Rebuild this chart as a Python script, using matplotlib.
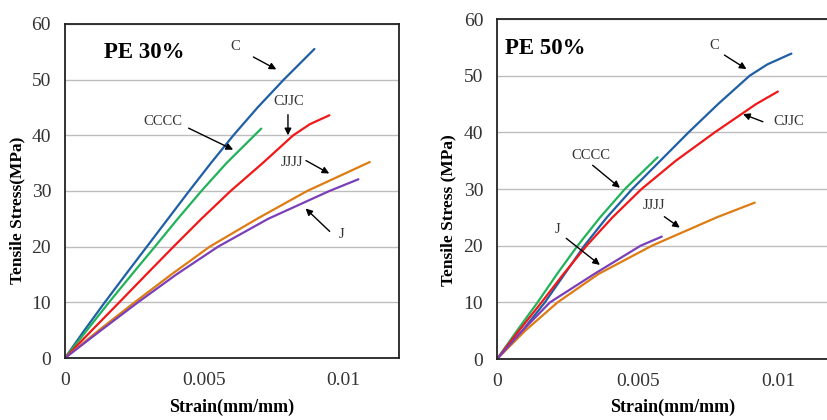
import matplotlib
matplotlib.use("Agg")
import matplotlib.pyplot as plt

plt.rcParams['font.family'] = ['Liberation Serif', 'DejaVu Serif']

# PE 30% curves (strain, stress)
c30_x = [0, 0.0007, 0.00143, 0.00218, 0.00294, 0.0037, 0.00446, 0.00524, 0.00605, 0.00692, 0.00786, 0.00896]
c30_y = [0, 5, 10, 15, 20, 25, 30, 35, 40, 45, 50, 55.5]
cccc30_x = [0, 0.00079, 0.00158, 0.0024, 0.00323, 0.00405, 0.0049, 0.0058, 0.00705]
cccc30_y = [0, 5, 10, 15, 20, 25, 30, 35, 41.2]
cjjc30_x = [0, 0.00097, 0.00195, 0.00292, 0.0039, 0.0049, 0.00595, 0.0071, 0.0082, 0.0088, 0.0095]
cjjc30_y = [0, 5, 10, 15, 20, 25, 30, 35, 40, 42, 43.6]
jjjj30_x = [0, 0.00122, 0.0025, 0.00382, 0.0052, 0.0069, 0.0087, 0.01095]
jjjj30_y = [0, 5, 10, 15, 20, 25, 30, 35.2]
j30_x = [0, 0.0013, 0.00262, 0.0040, 0.0055, 0.0073, 0.0095, 0.01054]
j30_y = [0, 5, 10, 15, 20, 25, 30, 32.1]

# PE 50% curves
c50_x = [0, 0.0009, 0.0017, 0.0024, 0.0031, 0.0039, 0.0048, 0.0058, 0.0068, 0.00785, 0.00897, 0.0096, 0.01045]
c50_y = [0, 5, 10, 15, 20, 25, 30, 35, 40, 45, 50, 52, 53.9]
cccc50_x = [0, 0.00071, 0.00144, 0.00213, 0.00286, 0.00366, 0.00454, 0.0057]
cccc50_y = [0, 5, 10, 15, 20, 25, 30, 35.6]
cjjc50_x = [0, 0.00078, 0.00158, 0.00236, 0.00318, 0.0041, 0.00513, 0.00635, 0.00773, 0.0092, 0.00997]
cjjc50_y = [0, 5, 10, 15, 20, 25, 30, 35, 40, 45, 47.2]
jjjj50_x = [0, 0.001, 0.00215, 0.0036, 0.0055, 0.00702, 0.0078, 0.00915]
jjjj50_y = [0, 5, 10, 15, 20, 23.3, 25, 27.6]
j50_x = [0, 0.0009, 0.00188, 0.00345, 0.0051, 0.00585]
j50_y = [0, 5, 10, 15, 20, 21.6]

colors = {'C': '#1f5fa6', 'CCCC': '#21b25a', 'CJJC': '#f01818', 'JJJJ': '#de7c14', 'J': '#7a3fb8'}

fig = plt.figure(figsize=(8.27, 4.2), dpi=100)
ax1 = fig.add_axes([0.0786, 0.1476, 0.4039, 0.7954])
ax2 = fig.add_axes([0.601, 0.1452, 0.4087, 0.8095])

panels = [
    (ax1, 'PE 30%', 0.0014, 'Tensile Stress(MPa)', 25, 232,
     [(c30_x, c30_y, 'C'), (cccc30_x, cccc30_y, 'CCCC'), (cjjc30_x, cjjc30_y, 'CJJC'),
      (jjjj30_x, jjjj30_y, 'JJJJ'), (j30_x, j30_y, 'J')],
     [('C', (0.00613, 55.9), (0.00668, 54.3), (0.00768, 51.6)),
      ('CJJC', (0.00804, 46.0), (0.00801, 44.2), (0.00801, 39.5)),
      ('CCCC', (0.00351, 42.4), (0.00435, 41.5), (0.00613, 37.2)),
      ('JJJJ', (0.00815, 35.1), (0.00857, 35.7), (0.00958, 32.9)),
      ('J', (0.00994, 22.1), (0.00958, 22.4), (0.00857, 27.2))]),
    (ax2, 'PE 50%', 0.0003, 'Tensile Stress (MPa)', 456, 673,
     [(c50_x, c50_y, 'C'), (cccc50_x, cccc50_y, 'CCCC'), (cjjc50_x, cjjc50_y, 'CJJC'),
      (jjjj50_x, jjjj50_y, 'JJJJ'), (j50_x, j50_y, 'J')],
     [('C', (0.0077, 55.4), (0.00799, 53.9), (0.00894, 50.9)),
      ('CJJC', (0.01035, 41.9), (0.00953, 41.7), (0.00864, 43.4)),
      ('CCCC', (0.00332, 36.0), (0.00332, 34.5), (0.00444, 29.9)),
      ('JJJJ', (0.00557, 27.1), (0.00586, 25.4), (0.00657, 22.9)),
      ('J', (0.00214, 22.9), (0.00238, 21.6), (0.00373, 16.3))]),
]

for ax, title, tx, ylabel, ylab_px, xlab_px, curves, notes in panels:
    for xs, ys, name in curves:
        ax.plot(xs, ys, color=colors[name], lw=1.6, solid_capstyle='round', solid_joinstyle='round')
    ax.set_xlim(0, 0.012)
    ax.set_ylim(0, 60)
    ax.set_xticks([0, 0.005, 0.01])
    ax.set_xticklabels(['0', '0.005', '0.01'])
    ax.set_yticks([0, 10, 20, 30, 40, 50, 60])
    ax.tick_params(length=0, labelsize=14, pad=10, labelcolor='#333333')
    ax.grid(axis='y', color='#bdbdbd', lw=1)
    ax.set_axisbelow(True)
    for s in ax.spines.values():
        s.set_color('#222222')
        s.set_linewidth(1.3)
    ax.set_xlabel('Strain(mm/mm)', fontsize=13, fontweight='bold')
    ax.set_ylabel(ylabel, fontsize=12.5, fontweight='bold')
    # axis labels at the reference pixel positions
    ax.xaxis.set_label_coords(xlab_px / 827, 21 / 420, transform=fig.transFigure)
    ax.yaxis.set_label_coords(ylab_px / 827, 0.5, transform=fig.transFigure)
    ax.text(tx, 54.8, title, fontsize=16.5, fontweight='bold', va='center', ha='left')
    for label, tpos, a0, a1 in notes:
        ax.text(tpos[0], tpos[1], label, fontsize=10.5, ha='center', va='center', color='#333333')
        ax.annotate('', xy=a1, xytext=a0,
                    arrowprops=dict(arrowstyle='-|>', color='black', lw=1, mutation_scale=10))

fig.savefig('out.png', dpi=100)
